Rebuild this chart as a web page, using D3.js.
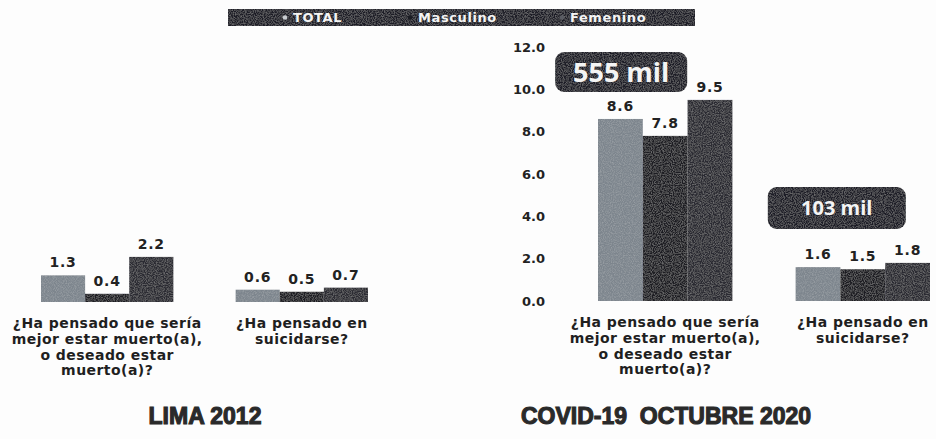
<!DOCTYPE html>
<html>
<head>
<meta charset="utf-8">
<script src="https://cdn.jsdelivr.net/npm/d3@7/dist/d3.min.js"></script>
<style>
  html, body { margin: 0; padding: 0; background: #fdfdfd; }
  svg { display: block; }
  text { font-family: "DejaVu Sans", Verdana, sans-serif; font-weight: 700; }
</style>
</head>
<body>
<svg id="chart" width="936" height="439"></svg>
<script>
// Series and categories
const series = ["TOTAL", "Masculino", "Femenino"];
const categories = [
  "¿Ha pensado que sería mejor estar muerto(a), o deseado estar muerto(a)?",
  "¿Ha pensado en suicidarse?"
];
const categoryLines = [
  ["¿Ha pensado que sería", "mejor estar muerto(a),", "o deseado estar", "muerto(a)?"],
  ["¿Ha pensado en", "suicidarse?"]
];
// Percentages per category: [TOTAL, Masculino, Femenino]
const lima2012 = [[1.3, 0.4, 2.2], [0.6, 0.5, 0.7]];
const covid2020 = [[8.6, 7.8, 9.5], [1.6, 1.5, 1.8]];
const covidTotals = ["555 mil", "103 mil"];
const yTicks = [0, 2, 4, 6, 8, 10, 12];
const panelTitles = ["LIMA 2012", "COVID-19  OCTUBRE 2020"];

const colors = d3.scaleOrdinal().domain(series).range(["#7d858d", "#1b1c23", "#2a2b33"]);

const svg = d3.select("#chart");

// Film-grain texture for the filled shapes
const defs = svg.append("defs");
const grain = defs.append("filter").attr("id", "grain").attr("x", 0).attr("y", 0).attr("width", 1).attr("height", 1);
grain.append("feTurbulence").attr("type", "fractalNoise").attr("baseFrequency", 0.9).attr("numOctaves", 2).attr("seed", 3).attr("result", "noise");
grain.append("feColorMatrix").attr("in", "noise").attr("type", "matrix")
  .attr("values", "0 0 0 0 1  0 0 0 0 1  0 0 0 0 1  0 0 0 -1.2 0.75").attr("result", "spots");
grain.append("feComposite").attr("in", "spots").attr("in2", "SourceGraphic").attr("operator", "in").attr("result", "clipped");
grain.append("feComponentTransfer").attr("in", "clipped").attr("result", "soft")
  .append("feFuncA").attr("type", "linear").attr("slope", 0.25);
const merge = grain.append("feMerge");
merge.append("feMergeNode").attr("in", "SourceGraphic");
merge.append("feMergeNode").attr("in", "soft");

// Legend strip
const legend = svg.append("g");
legend.append("rect").attr("x", 228).attr("y", 9).attr("width", 467).attr("height", 17)
  .attr("fill", "#1d1e25").attr("filter", "url(#grain)");
const legendX = [293, 418, 570];
series.forEach((s, i) => {
  legend.append("circle").attr("cx", legendX[i] - 8).attr("cy", 17.5).attr("r", 2.3)
    .attr("fill", i === 0 ? "#c9cdd1" : i === 2 ? "#5a5c63" : colors(s));
  legend.append("text").attr("x", legendX[i]).attr("y", 22)
    .attr("fill", "#f4f4f4").style("font-size", "13px").style("letter-spacing", "0.6px").text(s);
});

function drawPanel(data, range, baseline, top, opts) {
  const g = svg.append("g");
  const x0 = d3.scaleBand().domain(categories).range(range).paddingInner(0.32).paddingOuter(0);
  const x1 = d3.scaleBand().domain(series).range([0, x0.bandwidth()]).padding(0);
  const y = d3.scaleLinear().domain([0, 12]).range([baseline, top]);

  if (opts.axisX !== undefined) {
    const axis = d3.axisLeft(y).tickValues(yTicks).tickFormat(d3.format(".1f")).tickSize(0).tickPadding(0);
    const ax = g.append("g").attr("transform", `translate(${opts.axisX},0)`).call(axis);
    ax.select(".domain").remove();
    ax.selectAll("text").attr("fill", "#222")
      .style("font-family", "'DejaVu Sans', sans-serif").style("font-weight", 700).style("font-size", "13px");
  }

  const groups = g.selectAll(".grp").data(categories).join("g")
    .attr("transform", d => `translate(${x0(d)},0)`);

  groups.each(function (cat, ci) {
    const grp = d3.select(this);
    const vals = data[ci];
    grp.selectAll("rect.bar").data(series).join("rect").attr("class", "bar")
      .attr("x", s => x1(s)).attr("width", x1.bandwidth())
      .attr("y", (s, i) => y(vals[i])).attr("height", (s, i) => y(0) - y(vals[i]))
      .attr("fill", s => colors(s)).attr("filter", "url(#grain)");
    grp.selectAll("text.val").data(series).join("text").attr("class", "val")
      .attr("x", s => x1(s) + x1.bandwidth() / 2)
      .attr("y", (s, i) => y(vals[i]) - 8)
      .attr("text-anchor", "middle").attr("fill", "#222")
      .style("font-size", "14px").style("letter-spacing", "0.8px")
      .text((s, i) => d3.format(".1f")(vals[i]));

    const lbl = grp.append("text").attr("text-anchor", "middle").attr("fill", "#1f1f1f")
      .style("font-size", "14px").style("letter-spacing", "0.45px");
    categoryLines[ci].forEach((line, li) => {
      lbl.append("tspan").attr("x", x0.bandwidth() / 2).attr("y", baseline + 26 + li * 15.8).text(line);
    });

    if (opts.totals) {
      const b = opts.boxes[ci];
      grp.append("rect").attr("x", x0.bandwidth() / 2 + b.dx - b.w / 2).attr("y", b.y)
        .attr("width", b.w).attr("height", b.h).attr("rx", 9)
        .attr("fill", "#1d1e25").attr("filter", "url(#grain)");
      grp.append("text").attr("x", x0.bandwidth() / 2 + b.dx).attr("y", b.y + b.h / 2)
        .attr("dy", "0.36em").attr("text-anchor", "middle").attr("fill", "#f4f4f4")
        .style("font-family", "'Open Sans', sans-serif").style("font-weight", 700)
        .style("font-size", b.fs + "px").text(opts.totals[ci]);
    }
  });

  svg.append("text").attr("x", opts.titleX).attr("y", 424).attr("text-anchor", "middle")
    .style("font-family", "'Liberation Sans', Arial, sans-serif").style("font-size", "23px")
    .style("font-weight", 700)
    .attr("fill", "#2a2a2a").attr("stroke", "#2a2a2a").attr("stroke-width", 1.1)
    .attr("xml:space", "preserve").text(opts.title);
}

drawPanel(lima2012, [41, 368], 302, 56, { titleX: 205, title: panelTitles[0] });
drawPanel(covid2020, [598, 930], 301, 47, {
  axisX: 545, titleX: 666, title: panelTitles[1],
  totals: covidTotals,
  boxes: [
    { dx: -44, y: 52, w: 132, h: 40, fs: 27 },
    { dx: -26, y: 187, w: 138, h: 42, fs: 20 }
  ]
});
</script>
</body>
</html>
